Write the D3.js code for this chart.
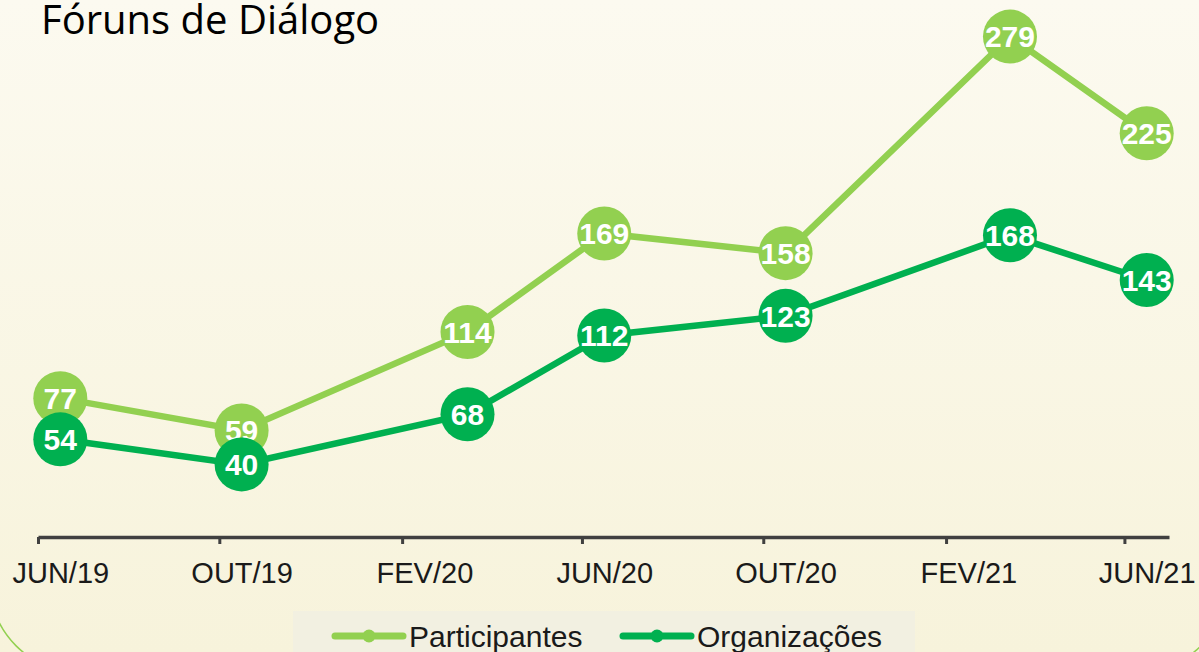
<!DOCTYPE html>
<html>
<head>
<meta charset="utf-8">
<script src="https://cdn.jsdelivr.net/npm/d3@7"></script>
<style>
  body { margin: 0; overflow: hidden; }
  svg { display: block; }
</style>
</head>
<body>
<div id="chart"></div>
<script>
const svgWidth = 1199
const svgHeight = 652

// chart data
let months = ["2019-06", "2019-10", "2020-03", "2020-06", "2020-10", "2021-03", "2021-06"]
let participantes = [77, 59, 114, 169, 158, 279, 225]
let organizacoes = [54, 40, 68, 112, 123, 168, 143]
let tickMonths = ["2019-06", "2019-10", "2020-02", "2020-06", "2020-10", "2021-02", "2021-06"]
let tickLabels = ["JUN/19", "OUT/19", "FEV/20", "JUN/20", "OUT/20", "FEV/21", "JUN/21"]
let seriesNames = ["Participantes", "Organizações"]

const lightGreen = "#92d050"
const darkGreen = "#00b050"

let parseMonth = d3.timeParse("%Y-%m")
let midMonth = m => d3.timeDay.offset(parseMonth(m), 15)

let svg = d3
  .select("#chart")
  .append("svg")
  .attr("width", svgWidth)
  .attr("height", svgHeight)

// background
let grad = svg.append("defs")
  .append("linearGradient")
  .attr("id", "bg")
  .attr("x1", 0).attr("y1", 0)
  .attr("x2", 0).attr("y2", 1)
grad.append("stop").attr("offset", "0%").attr("stop-color", "#fcfaf0")
grad.append("stop").attr("offset", "100%").attr("stop-color", "#f7f3db")

svg.append("rect")
  .attr("width", svgWidth)
  .attr("height", svgHeight)
  .attr("fill", "url(#bg)")

// rounded frame, mostly outside the picture
svg.append("rect")
  .attr("x", -10.5)
  .attr("y", -200)
  .attr("width", 1238)
  .attr("height", 872)
  .attr("rx", 90)
  .attr("fill", "none")
  .attr("stroke", lightGreen)
  .attr("stroke-width", 1.5)

// title
svg.append("text")
  .attr("x", 41)
  .attr("y", 34)
  .attr("font-family", "Open Sans")
  .attr("font-size", 40)
  .attr("fill", "#000")
  .text("Fóruns de Diálogo")

let xScale = d3.scaleTime()
  .domain([parseMonth("2019-06"), parseMonth("2021-07")])
  .range([38, 1169])

let yScale = d3.scaleLinear()
  .domain([0, 300])
  .range([536, -1])

// x axis
let halfMonth = xScale(midMonth("2019-06")) - xScale(parseMonth("2019-06"))
let bottomAxis = d3.axisBottom(xScale)
  .tickValues(tickMonths.map(parseMonth))
  .tickFormat((d, i) => tickLabels[i])
  .tickSizeOuter(0)
  .tickSizeInner(7)
  .tickPadding(18)

let xAxis = svg.append("g")
  .attr("transform", "translate(0, 537)")
  .call(bottomAxis)

xAxis.select(".domain")
  .attr("stroke", "#404040")
  .attr("stroke-width", 3.5)
xAxis.selectAll(".tick line")
  .attr("stroke", "#404040")
  .attr("stroke-width", 3)
xAxis.selectAll(".tick text")
  .attr("x", halfMonth)
  .attr("font-family", "Liberation Sans, Arial, sans-serif")
  .attr("font-size", 29)
  .attr("fill", "#1a1a1a")

// series
let series = [
  { name: seriesNames[0], values: participantes, color: lightGreen },
  { name: seriesNames[1], values: organizacoes, color: darkGreen }
]

let line = d3.line()
  .x((d, i) => xScale(midMonth(months[i])))
  .y(d => yScale(d))

series.forEach(s => {
  let g = svg.append("g")

  g.append("path")
    .datum(s.values)
    .attr("d", line)
    .attr("fill", "none")
    .attr("stroke", s.color)
    .attr("stroke-width", 6.5)

  g.selectAll("circle")
    .data(s.values)
    .enter()
    .append("circle")
    .attr("cx", (d, i) => xScale(midMonth(months[i])))
    .attr("cy", d => yScale(d))
    .attr("r", 27)
    .attr("fill", s.color)

  g.selectAll("text")
    .data(s.values)
    .enter()
    .append("text")
    .attr("x", (d, i) => xScale(midMonth(months[i])))
    .attr("y", d => yScale(d))
    .attr("dy", "0.36em")
    .attr("text-anchor", "middle")
    .attr("font-family", "Liberation Sans, Arial, sans-serif")
    .attr("font-weight", "bold")
    .attr("font-size", 30)
    .attr("fill", "#fff")
    .text(d => d)
})

// legend
let legend = svg.append("g")

legend.append("rect")
  .attr("x", 293)
  .attr("y", 611)
  .attr("width", 622)
  .attr("height", 60)
  .attr("fill", "#f2f0e1")

let legendX = [335, 623]
series.forEach((s, i) => {
  let lg = legend.append("g")
    .attr("transform", `translate(${legendX[i]}, 636)`)
  lg.append("line")
    .attr("x1", 0).attr("x2", 68)
    .attr("stroke", s.color)
    .attr("stroke-width", 7)
    .attr("stroke-linecap", "round")
  lg.append("circle")
    .attr("cx", 34)
    .attr("r", 6.5)
    .attr("fill", s.color)
  lg.append("text")
    .attr("x", 74)
    .attr("dy", "0.36em")
    .attr("font-family", "Liberation Sans, Arial, sans-serif")
    .attr("font-size", 30)
    .attr("fill", "#1a1a1a")
    .text(s.name)
})
</script>
</body>
</html>
